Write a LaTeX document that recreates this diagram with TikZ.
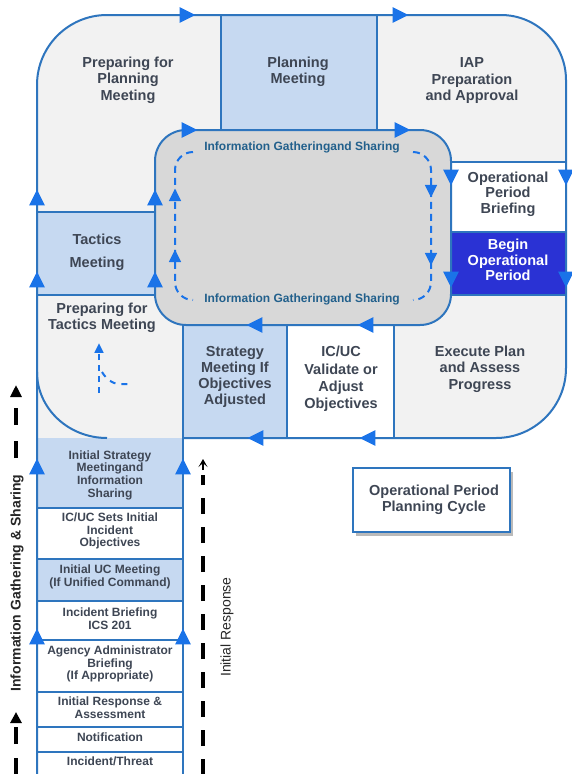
\documentclass[tikz,border=0pt]{standalone}
\usepackage{fontspec}
\setmainfont{Liberation Sans}
\usetikzlibrary{arrows.meta,shadows}

\definecolor{lineblue}{RGB}{46,117,190}
\definecolor{arrblue}{RGB}{26,115,232}
\definecolor{lightgrey}{RGB}{242,242,242}
\definecolor{midgrey}{RGB}{216,216,216}
\definecolor{paleblue}{RGB}{198,217,241}
\definecolor{deepblue}{RGB}{42,50,212}
\definecolor{txt}{RGB}{62,70,84}
\definecolor{infotxt}{RGB}{34,96,140}

\newcommand\arrowtri[4]{\fill[arrblue,shift={(#1,#2)},rotate=#3] (#4*0.62,0) -- (-#4*0.42,#4*0.52) -- (-#4*0.42,-#4*0.52) -- cycle;}

\begin{document}
\begin{tikzpicture}[x=1pt,y=-1pt,
  cell/.style={draw=lineblue,line width=2pt},
  lbl/.style={font=\bfseries\fontsize{14.5}{16.5}\selectfont,text=txt,align=center,inner sep=0pt},
  sml/.style={font=\bfseries\fontsize{12}{12.7}\selectfont,text=txt,align=center,inner sep=0pt},
  info/.style={font=\bfseries\fontsize{12}{14}\selectfont,text=infotxt,inner sep=0pt},
  bdash/.style={draw=black,line width=3.5pt,dash pattern=on 17pt off 15pt},
  idash/.style={draw=arrblue,line width=2pt,dash pattern=on 7pt off 5pt}]
\useasboundingbox (0,0) rectangle (572,774);
\fill[white] (0,0) rectangle (572,774);

% outer light region
\fill[lightgrey] (37,438) -- (37,85) arc[start angle=180,end angle=270,radius=70]
  -- (501,15) arc[start angle=270,end angle=360,radius=65]
  -- (566,368) arc[start angle=0,end angle=90,radius=70] -- cycle;
% inner grey
\fill[midgrey,rounded corners=31pt] (155,130) rectangle (451,325);

% cells
\fill[paleblue] (221,15) rectangle (377,130);
\fill[white] (451,162) rectangle (566,232);
\fill[deepblue] (451,232) rectangle (566,295);
\fill[paleblue] (183,325) rectangle (287,438);
\fill[white] (287,325) rectangle (394,438);
\fill[paleblue] (37,212) rectangle (155,295);

% column
\fill[paleblue] (37,438) rectangle (183,508);
\fill[white] (37,508) rectangle (183,559);
\fill[paleblue] (37,559) rectangle (183,601);
\fill[white] (37,601) rectangle (183,774);

% lines
\draw[cell] (183,438) -- (496,438) arc[start angle=90,end angle=0,radius=70]
  -- (566,80) arc[start angle=360,end angle=270,radius=65]
  -- (107,15) arc[start angle=270,end angle=180,radius=70] -- (37,774);
\draw[cell,rounded corners=31pt] (155,130) rectangle (451,325);
\draw[cell] (221,15) -- (221,130) (377,15) -- (377,130);
\draw[cell] (451,162) -- (566,162) (451,232) -- (566,232) (451,295) -- (566,295);
\draw[cell] (183,325) -- (183,774) (287,325) -- (287,438) (394,325) -- (394,438);
\draw[cell] (37,212) -- (155,212) (37,295) -- (155,295);
\draw[cell] (37,372) arc[start angle=180,end angle=90,x radius=70,y radius=66];
\foreach \yy in {508,559,601,640,692,727,752} \draw[cell] (37,\yy) -- (183,\yy);

% main arrows
\arrowtri{186}{15}{0}{15}
\arrowtri{399}{15}{0}{15}
\arrowtri{188}{130}{0}{15}
\arrowtri{401}{130}{0}{15}
\arrowtri{451}{176}{270}{15}
\arrowtri{566}{176}{270}{15}
\arrowtri{451}{278}{270}{15}
\arrowtri{566}{278}{270}{15}
\arrowtri{367}{325}{180}{15}
\arrowtri{256}{325}{180}{15}
\arrowtri{369}{438}{180}{15}
\arrowtri{257}{438}{180}{15}
\arrowtri{37}{199}{90}{15}
\arrowtri{155}{199}{90}{15}
\arrowtri{37}{281}{90}{15}
\arrowtri{155}{281}{90}{15}
\arrowtri{37}{468}{90}{15}
\arrowtri{183}{468}{90}{15}
\arrowtri{37}{638}{90}{15}
\arrowtri{183}{638}{90}{15}

% inner dashed loop
\draw[idash] (193,152) arc[start angle=270,end angle=180,radius=18] -- (175,282)
  arc[start angle=180,end angle=90,radius=18];
\draw[idash] (413,152) arc[start angle=270,end angle=360,radius=18] -- (431,282)
  arc[start angle=0,end angle=90,radius=18];
\arrowtri{175}{196}{90}{12}
\arrowtri{175}{257}{90}{12}
\arrowtri{431}{190}{270}{12}
\arrowtri{431}{258}{270}{12}

% small dashed in preparing for tactics
\draw[idash,dash pattern=on 6pt off 5pt] (99,393) -- (99,354);
\arrowtri{99}{349}{90}{9}
\draw[idash,dash pattern=on 6pt off 6pt] (102,372) .. controls (107,380) and (112,383) .. (118,384) -- (133,384);

% black dashed lines
\draw[bdash,dash pattern=on 17pt off 16pt,-{Triangle[length=12pt,width=11pt]}] (16,458) -- (16,385);
\draw[bdash,dash pattern=on 17pt off 14pt,-{Triangle[length=11pt,width=11pt]}] (16,775) -- (16,712);
\draw[bdash,dash pattern=on 16pt off 13pt] (203,775) -- (203,475);
\draw[black,line width=1.5pt,-{Stealth[length=8pt,width=9pt,inset=4pt]}] (203,470) -- (203,459);

% texts
\node[lbl] (prepplan) at (128,80) {Preparing for\\Planning\\Meeting};
\node[lbl] (planmtg) at (298,72) {Planning\\Meeting};
\node[lbl] (iap) at (472,81) {IAP\\Preparation\\and Approval};
\node[info] (infotop) at (302,147) {Information Gatheringand Sharing};
\node[info] (infobot) at (302,299) {Information Gatheringand Sharing};
\node[lbl,font=\bfseries\fontsize{14.5}{15.5}\selectfont] (opbrief) at (508,194) {Operational\\Period\\Briefing};
\node[lbl,text=white,font=\bfseries\fontsize{14.5}{15.5}\selectfont] (beginop) at (508,260) {Begin\\Operational\\Period};
\node[lbl] (exec) at (480,369) {Execute Plan\\and Assess\\Progress};
\node[lbl,font=\bfseries\fontsize{14.5}{17.3}\selectfont] (icuc) at (341,379) {IC/UC\\Validate or\\Adjust\\Objectives};
\node[lbl,font=\bfseries\fontsize{14.5}{16}\selectfont] (strat) at (235,377) {Strategy\\Meeting If\\Objectives\\Adjusted};
\node[lbl,font=\bfseries\fontsize{14.5}{23}\selectfont] (tactics) at (97,252) {Tactics\\Meeting};
\node[lbl] (preptac) at (102,318) {Preparing for\\Tactics Meeting};

\node[sml] (c1) at (110,475) {Initial Strategy\\Meetingand\\Information\\Sharing};
\node[sml] (c2) at (110,531) {IC/UC Sets Initial\\Incident\\Objectives};
\node[sml] (c3) at (110,577) {Initial UC Meeting\\(If Unified Command)};
\node[sml] (c4) at (110,619) {Incident Briefing\\ICS 201};
\node[sml] (c5) at (110,664) {Agency Administrator\\Briefing\\(If Appropriate)};
\node[sml] (c6) at (110,708) {Initial Response \&\\Assessment};
\node[sml] (c7) at (110,737) {Notification};
\node[sml] (c8) at (110,761) {Incident/Threat};

\node[font=\bfseries\fontsize{14}{16}\selectfont,text=black!85,rotate=90,inner sep=0pt] (igs) at (17,583) {Information Gathering \& Sharing};
\node[font=\fontsize{14}{16}\selectfont,text=black!85,rotate=90,inner sep=0pt] (ir) at (227,627) {Initial Response};

\node[draw=lineblue,line width=2.5pt,fill=white,minimum width=157pt,minimum height=64pt,
  drop shadow={fill=black!60,opacity=0.45,shadow xshift=2.5pt,shadow yshift=-3.5pt}] (legend) at (431.5,500) {};
\node[lbl] (legendtxt) at (434,500) {Operational Period\\Planning Cycle};
\end{tikzpicture}
\end{document}
